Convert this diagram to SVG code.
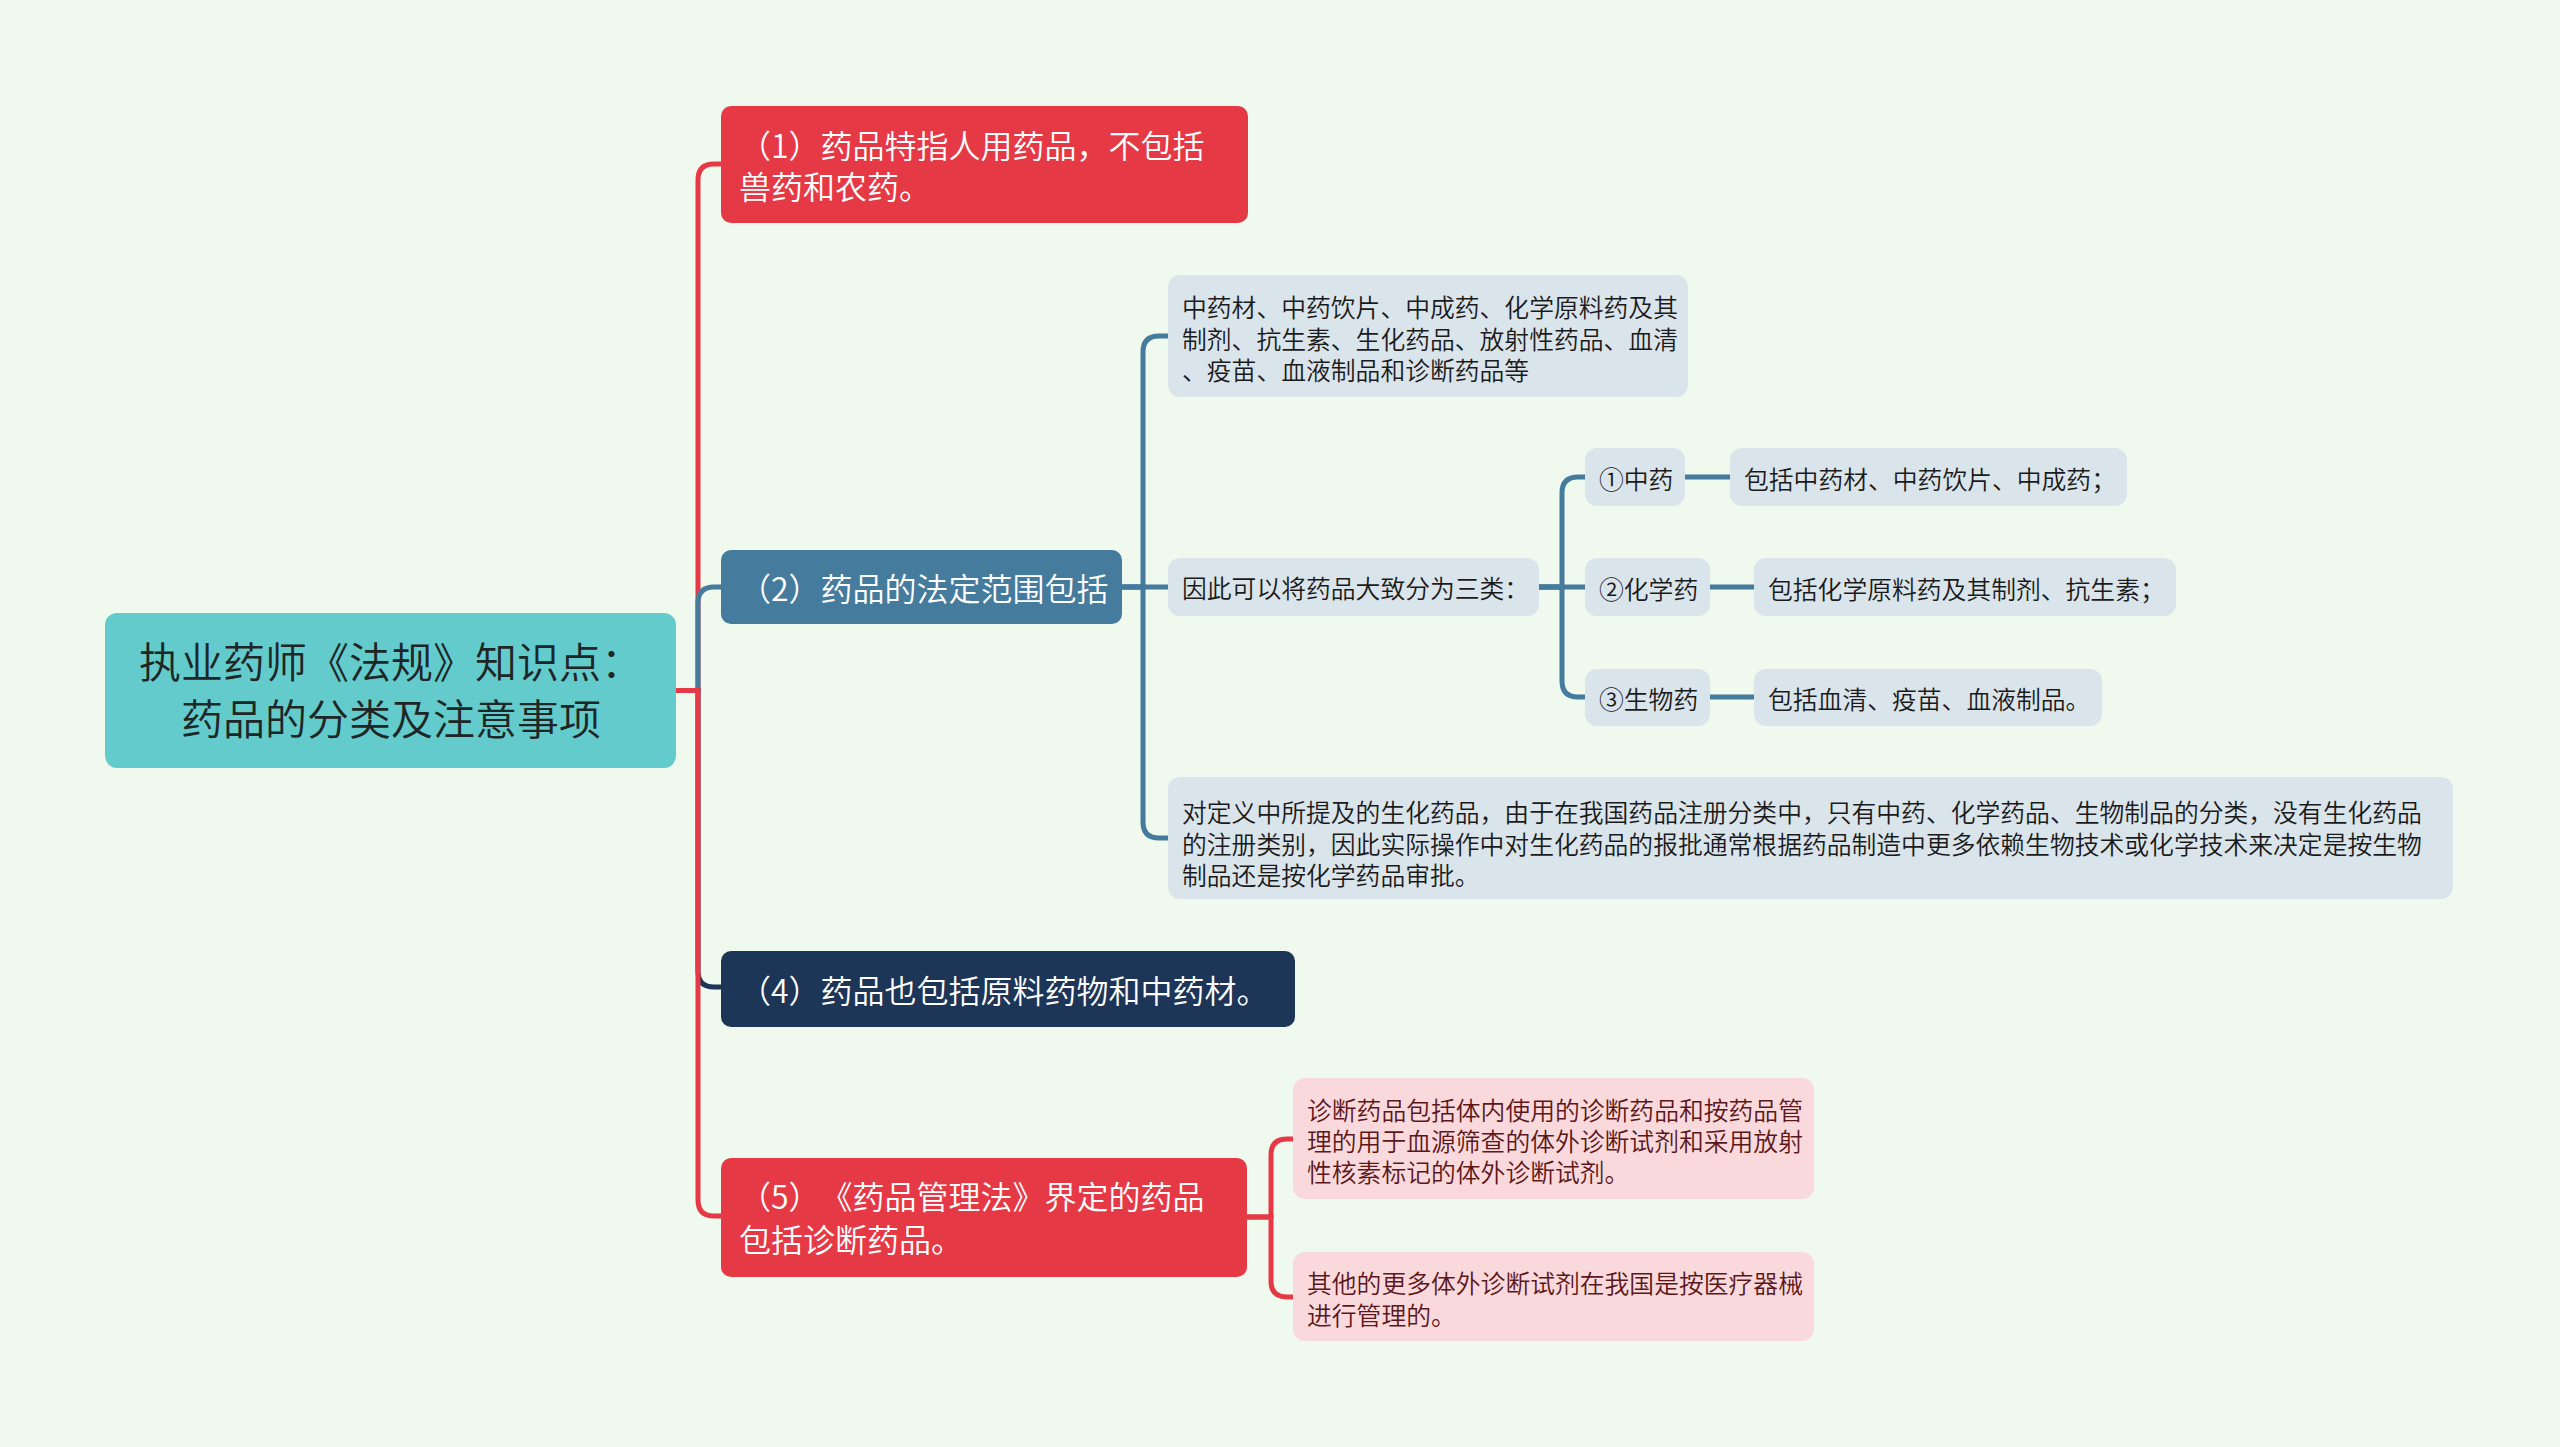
<svg xmlns="http://www.w3.org/2000/svg" width="2560" height="1447" viewBox="0 0 2560 1447">
<style>
text{font-family:"Noto Sans CJK SC","Noto Sans",sans-serif;text-spacing-trim:space-all;font-weight:350;}
.root{font-size:42px;fill:#1e2626;}
.l1{font-size:32px;fill:#ffffff;}
.l2{font-size:24.8px;fill:#1a1a1a;}
.l2p{font-size:24.8px;fill:#5b1719;}
.c{fill:none;stroke-width:5;}
.red{stroke:#e63946;}
.blue{stroke:#457b9d;}
.navy{stroke:#1d3557;}
.bx{fill:#dae4eb;}
.pk{fill:#fad9dd;}
</style>
<rect x="0" y="0" width="2560" height="1447" fill="#f0f9ee"/>
<g id="connectors">
<path class="c red" d="M676,690.5 H698 V180 Q698,164 714,164 H722"/>
<path class="c navy" d="M676,690.5 H698 V971 Q698,987 714,987 H722"/>
<path class="c blue" d="M676,690.5 H698 V603 Q698,587 714,587 H722"/>
<path class="c red" d="M676,690.5 H698 V1200 Q698,1216 714,1216 H722"/>
<path class="c blue" d="M1122,587 H1143 V352 Q1143,336 1159,336 H1169"/>
<path class="c blue" d="M1122,587 H1169"/>
<path class="c blue" d="M1122,587 H1143 V822 Q1143,838 1159,838 H1169"/>
<path class="c blue" d="M1539,587 H1562 V493 Q1562,477 1578,477 H1586"/>
<path class="c blue" d="M1539,587 H1586"/>
<path class="c blue" d="M1539,587 H1562 V681 Q1562,697 1578,697 H1586"/>
<path class="c blue" d="M1684,477 H1731"/>
<path class="c blue" d="M1709,587 H1755"/>
<path class="c blue" d="M1709,697 H1755"/>
<path class="c red" d="M1247,1217 H1271 V1155 Q1271,1139 1287,1139 H1294"/>
<path class="c red" d="M1247,1217 H1271 V1281 Q1271,1297 1287,1297 H1294"/>
</g>
<g id="root">
<rect x="105" y="613" width="571" height="155" rx="12" fill="#63cbcc"/>
<text class="root" x="391" y="678" text-anchor="middle">执业药师《法规》知识点：</text>
<text class="root" x="391" y="735" text-anchor="middle">药品的分类及注意事项</text>
</g>
<g id="n1">
<rect x="721" y="106" width="527" height="117" rx="10" fill="#e63946"/>
<text class="l1" x="739" y="158">（1）药品特指人用药品，不包括</text>
<text class="l1" x="739" y="199">兽药和农药。</text>
</g>
<g id="n2">
<rect x="721" y="550" width="401" height="74" rx="10" fill="#457b9d"/>
<text class="l1" x="739" y="601">（2）药品的法定范围包括</text>
</g>
<g id="n4">
<rect x="721" y="951" width="574" height="76" rx="10" fill="#1d3557"/>
<text class="l1" x="739" y="1003">（4）药品也包括原料药物和中药材。</text>
</g>
<g id="n5">
<rect x="721" y="1158" width="526" height="119" rx="10" fill="#e63946"/>
<text class="l1" x="739" y="1209">（5）《药品管理法》界定的药品</text>
<text class="l1" x="739" y="1252">包括诊断药品。</text>
</g>
<g id="n2a">
<rect class="bx" x="1168" y="275" width="520" height="122" rx="12"/>
<text class="l2" x="1182" y="317">中药材、中药饮片、中成药、化学原料药及其</text>
<text class="l2" x="1182" y="348.5">制剂、抗生素、生化药品、放射性药品、血清</text>
<text class="l2" x="1182" y="379.5">、疫苗、血液制品和诊断药品等</text>
</g>
<g id="n2b">
<rect class="bx" x="1168" y="558" width="371" height="58" rx="12"/>
<text class="l2" x="1182" y="597.5">因此可以将药品大致分为三类：</text>
</g>
<g id="n2c">
<rect class="bx" x="1168" y="777" width="1285" height="122" rx="12"/>
<text class="l2" x="1182" y="821.5">对定义中所提及的生化药品，由于在我国药品注册分类中，只有中药、化学药品、生物制品的分类，没有生化药品</text>
<text class="l2" x="1182" y="853.5">的注册类别，因此实际操作中对生化药品的报批通常根据药品制造中更多依赖生物技术或化学技术来决定是按生物</text>
<text class="l2" x="1182" y="884.5">制品还是按化学药品审批。</text>
</g>
<g id="n2b1">
<rect class="bx" x="1585" y="448" width="100" height="58" rx="12"/>
<text class="l2" x="1599" y="489">①中药</text>
</g>
<g id="n2b2">
<rect class="bx" x="1585" y="558" width="125" height="58" rx="12"/>
<text class="l2" x="1599" y="599">②化学药</text>
</g>
<g id="n2b3">
<rect class="bx" x="1585" y="669" width="125" height="57" rx="12"/>
<text class="l2" x="1599" y="709">③生物药</text>
</g>
<g id="n2b1a">
<rect class="bx" x="1730" y="448" width="397" height="58" rx="12"/>
<text class="l2" x="1744" y="489">包括中药材、中药饮片、中成药；</text>
</g>
<g id="n2b2a">
<rect class="bx" x="1754" y="558" width="422" height="58" rx="12"/>
<text class="l2" x="1768" y="599">包括化学原料药及其制剂、抗生素；</text>
</g>
<g id="n2b3a">
<rect class="bx" x="1754" y="669" width="348" height="57" rx="12"/>
<text class="l2" x="1768" y="709">包括血清、疫苗、血液制品。</text>
</g>
<g id="n5a">
<rect class="pk" x="1293" y="1078" width="521" height="121" rx="12"/>
<text class="l2p" x="1307" y="1119.5">诊断药品包括体内使用的诊断药品和按药品管</text>
<text class="l2p" x="1307" y="1150.5">理的用于血源筛查的体外诊断试剂和采用放射</text>
<text class="l2p" x="1307" y="1181.5">性核素标记的体外诊断试剂。</text>
</g>
<g id="n5b">
<rect class="pk" x="1293" y="1252" width="521" height="89" rx="12"/>
<text class="l2p" x="1307" y="1292.5">其他的更多体外诊断试剂在我国是按医疗器械</text>
<text class="l2p" x="1307" y="1324.5">进行管理的。</text>
</g>
</svg>
